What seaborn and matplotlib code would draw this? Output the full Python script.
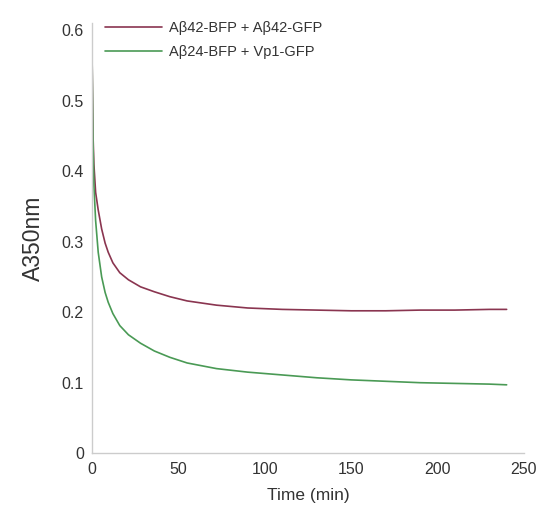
import pandas as pd
import seaborn as sns
import matplotlib.pyplot as plt

# 측정 시간 (min)
time_min = [0, 0.5, 1, 2, 3.5, 5.5, 7.5, 9.3, 12, 16, 21, 28, 36, 45, 55, 72,
            90, 110, 130, 150, 170, 190, 210, 230, 240]
# A350nm 값
a42_a42 = [0.55, 0.45, 0.41, 0.37, 0.345, 0.318, 0.298, 0.285, 0.27, 0.256,
           0.246, 0.236, 0.229, 0.222, 0.216, 0.210, 0.206, 0.204, 0.203,
           0.202, 0.202, 0.203, 0.203, 0.204, 0.204]
a24_vp1 = [0.55, 0.44, 0.38, 0.33, 0.285, 0.25, 0.228, 0.214, 0.198, 0.181,
           0.168, 0.156, 0.145, 0.136, 0.128, 0.120, 0.115, 0.111, 0.107,
           0.104, 0.102, 0.100, 0.099, 0.098, 0.097]
series_names = ["Aβ42-BFP + Aβ42-GFP", "Aβ24-BFP + Vp1-GFP"]
colors = ["#8a3550", "#4a9a55"]

df = pd.concat([
    pd.DataFrame({"time": time_min, "A350": a42_a42, "sample": series_names[0]}),
    pd.DataFrame({"time": time_min, "A350": a24_vp1, "sample": series_names[1]}),
])

sns.set_style("white")
plt.rcParams['font.family'] = ['Liberation Sans', 'DejaVu Sans']

fig = plt.figure(figsize=(5.39, 5.15), dpi=100)
ax = fig.add_axes([0.171, 0.12, 0.801, 0.835])
sns.lineplot(data=df, x="time", y="A350", hue="sample", palette=colors,
             linewidth=1.2, ax=ax)

ax.set_xlim(0, 250)
ax.set_ylim(0, 0.61)
ax.set_xticks([0, 50, 100, 150, 200, 250])
ax.set_yticks([0, 0.1, 0.2, 0.3, 0.4, 0.5, 0.6])
ax.set_yticklabels(["0", "0.1", "0.2", "0.3", "0.4", "0.5", "0.6"])
ax.tick_params(axis="both", length=0, labelsize=11.5, labelcolor="#333333", pad=6)
ax.set_xlabel("Time (min)", fontsize=12.5, color="#333333", labelpad=8)
ax.set_ylabel("A350nm", fontsize=16.5, color="#333333", labelpad=12)
sns.despine(ax=ax)
for side in ["left", "bottom"]:
    ax.spines[side].set_color("#cccccc")
    ax.spines[side].set_linewidth(1)

leg = ax.legend(loc="upper left", bbox_to_anchor=(0.0, 1.035), frameon=False,
                handlelength=3.9, fontsize=10.5, labelspacing=0.7,
                handletextpad=0.5)
for t in leg.get_texts():
    t.set_color("#333333")

fig.savefig("out.png", dpi=100)
